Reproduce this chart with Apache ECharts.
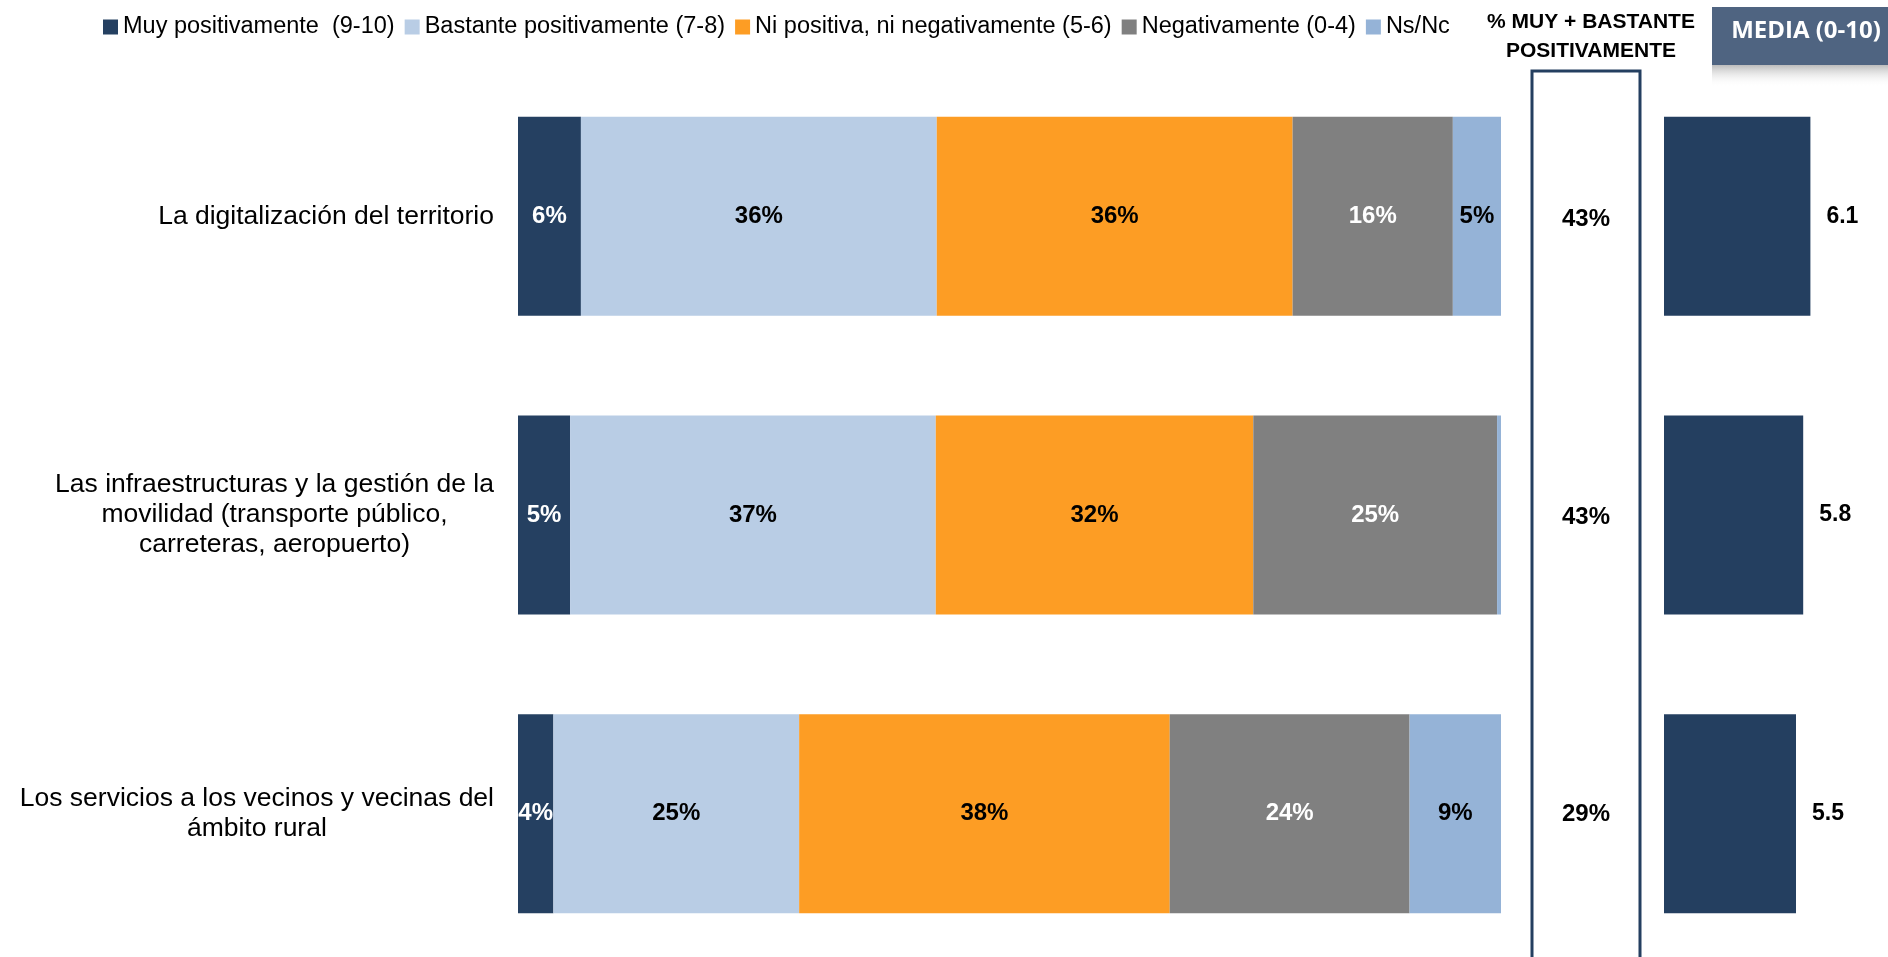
<!DOCTYPE html>
<html>
<head>
<meta charset="utf-8">
<script src="https://cdn.jsdelivr.net/npm/echarts@6/dist/echarts.min.js"></script>
<style>
  html, body { margin: 0; padding: 0; background: #fff; }
  #chart { width: 1888px; height: 957px; }
</style>
</head>
<body>
<div id="chart"></div>
<script>
// categories, top to bottom
const categories = [
  "La digitalización del territorio",
  "Las infraestructuras y la gestión de la\nmovilidad (transporte público,\ncarreteras, aeropuerto)",
  "Los servicios a los vecinos y vecinas del\námbito rural",
];
const seriesNames = [
  "Muy positivamente  (9-10)",
  "Bastante positivamente (7-8)",
  "Ni positiva, ni negativamente (5-6)",
  "Negativamente (0-4)",
  "Ns/Nc",
];
// percentages per answer
const muyPositivamente = [6.4, 5.3, 3.6];
const bastantePositivamente = [36.2, 37.2, 25.0];
const niPositivaNiNegativa = [36.2, 32.3, 37.7];
const negativamente = [16.3, 24.8, 24.4];
const nsNc = [4.9, 0.4, 9.3];
// % muy + bastante positivamente
const muyMasBastante = [43, 43, 29];
// mean score 0-10
const media = [6.1, 5.8, 5.5];

const FONT = "Liberation Sans, Arial, sans-serif";
const colors = ["#254061", "#b9cde5", "#fd9d24", "#808080", "#95b3d7"];
const labelColors = ["#fff", "#000", "#000", "#fff", "#000"];
const stackData = [muyPositivamente, bastantePositivamente, niPositivaNiNegativa, negativamente, nsNc];

const chart = echarts.init(document.getElementById("chart"));

const stackSeries = stackData.map((data, i) => ({
  name: seriesNames[i],
  type: "bar",
  stack: "total",
  xAxisIndex: 0,
  yAxisIndex: 0,
  barWidth: 199,
  data: data,
  itemStyle: { color: colors[i] },
  label: {
    show: true,
    position: "inside",
    color: labelColors[i],
    fontFamily: FONT,
    fontWeight: "bold",
    fontSize: 24,
    formatter: (p) => (p.value < 1 ? "" : Math.round(p.value) + "%"),
  },
}));

chart.setOption({
  animation: false,
  backgroundColor: "#fff",
  legend: {
    data: seriesNames,
    left: 98,
    top: 10,
    icon: "rect",
    itemWidth: 15,
    itemHeight: 15,
    itemGap: 10,
    textStyle: { fontFamily: FONT, fontSize: 23.5, color: "#000" },
  },
  title: {
    text: "% MUY + BASTANTE\nPOSITIVAMENTE",
    left: 1586,
    top: 3,
    textAlign: "center",
    textStyle: { fontFamily: FONT, fontWeight: "bold", fontSize: 21, lineHeight: 29, color: "#000" },
  },
  graphic: [
    {
      type: "rect",
      shape: { x: 1712, y: 65, width: 176, height: 22 },
      style: {
        fill: new echarts.graphic.LinearGradient(0, 0, 0, 1, [
          { offset: 0, color: "#bcbcbc" },
          { offset: 1, color: "rgba(255,255,255,0)" },
        ]),
      },
    },
    {
      type: "rect",
      shape: { x: 1712, y: 7, width: 176, height: 58 },
      style: { fill: "#4f6481" },
    },
    {
      type: "text",
      x: 1806,
      y: 31,
      style: {
        text: "MEDIA (0-10)",
        fill: "#fff",
        font: "bold 24px 'Open Sans', sans-serif",
        align: "center",
        verticalAlign: "middle",
      },
    },
  ],
  grid: [
    { left: 518, width: 983, top: 67, height: 896, outerBoundsMode: "none" },
    { left: 1532, width: 108, top: 71, height: 892, outerBoundsMode: "none", show: true, borderColor: "#243f60", borderWidth: 3, backgroundColor: "transparent" },
    { left: 1664, width: 216, top: 67, height: 896, outerBoundsMode: "none" },
  ],
  xAxis: [
    { gridIndex: 0, type: "value", min: 0, max: 100, show: false },
    { gridIndex: 1, type: "category", data: ["pct"], show: false },
    { gridIndex: 2, type: "value", min: 0, max: 9, show: false },
  ],
  yAxis: [
    {
      gridIndex: 0,
      type: "category",
      inverse: true,
      data: categories,
      axisLine: { show: false },
      axisTick: { show: false },
      axisLabel: {
        margin: 24,
        formatter: (v) => v.split("\n").map((l) => "{c|" + l + "}").join("\n"),
        rich: {
          c: { align: "center", fontFamily: FONT, fontSize: 26.5, lineHeight: 30, color: "#000" },
        },
      },
    },
    { gridIndex: 1, type: "category", inverse: true, data: categories, show: false },
    { gridIndex: 2, type: "category", inverse: true, data: categories, show: false },
  ],
  series: [
    ...stackSeries,
    {
      name: "pct",
      type: "scatter",
      xAxisIndex: 1,
      yAxisIndex: 1,
      symbolSize: 0,
      itemStyle: { opacity: 1 },
      data: muyMasBastante.map((v, i) => [0, i, v]),
      label: {
        show: true,
        position: "inside",
        color: "#000",
        fontFamily: FONT,
        fontWeight: "bold",
        fontSize: 24,
        formatter: (p) => p.value[2] + "%",
      },
    },
    {
      name: "media",
      type: "bar",
      xAxisIndex: 2,
      yAxisIndex: 2,
      barWidth: 199,
      data: media,
      itemStyle: { color: "#243f60" },
      label: {
        show: true,
        position: "right",
        distance: 16,
        color: "#000",
        fontFamily: FONT,
        fontWeight: "bold",
        fontSize: 23,
        formatter: (p) => p.value.toFixed(1),
      },
    },
  ],
});
</script>
</body>
</html>
